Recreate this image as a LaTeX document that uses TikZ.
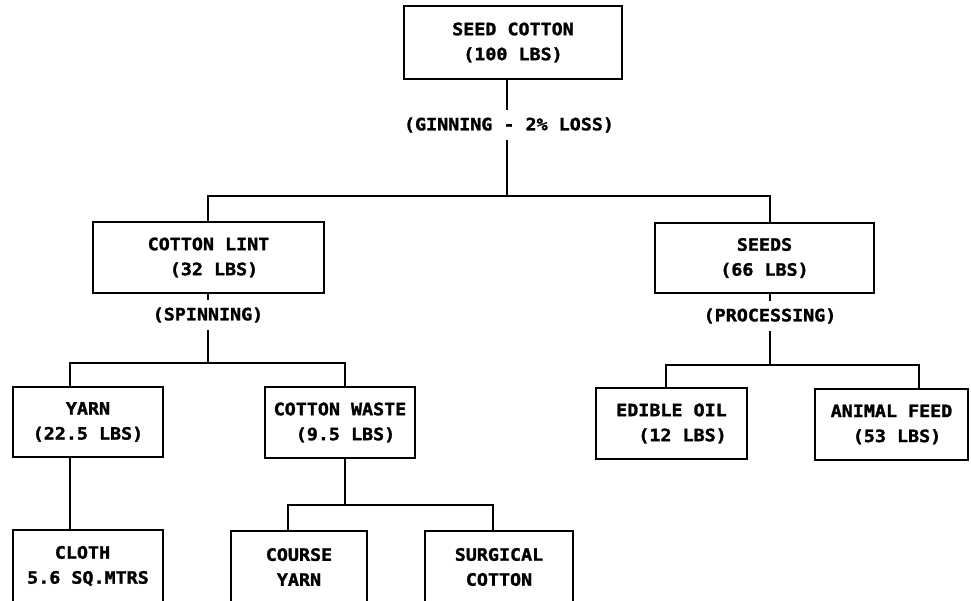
\documentclass[tikz,border=0pt]{standalone}
\usepackage{fontspec}
\newfontfamily\plotfont[FakeStretch=1.08, BoldFeatures={FakeBold=1.6}]{DejaVu Sans Mono}
\begin{document}
\begin{tikzpicture}[x=1pt,y=-1pt,
  txt/.style={font=\plotfont\bfseries\fontsize{17}{25}\selectfont},
  box/.style={txt, draw, line width=2.6pt, align=center, inner sep=0pt},
  lbl/.style={txt, fill=white, inner xsep=2pt, inner ysep=7pt},
  link/.style={line width=2.6pt}]
\useasboundingbox (0,0) rectangle (971,601);

% boxes
\node[box, minimum width=218pt, minimum height=73pt] (seed)  at (513,42.5)  {SEED COTTON\\(100 LBS)};
\node[box, minimum width=231pt, minimum height=71pt] (lint)  at (208.5,257.5) {COTTON LINT\\\ (32 LBS)};
\node[box, minimum width=219pt, minimum height=70pt] (seeds) at (764.5,258) {SEEDS\\(66 LBS)};
\node[box, minimum width=150pt, minimum height=70pt] (yarn)  at (88,422)    {YARN\\(22.5 LBS)};
\node[box, minimum width=150pt, minimum height=71pt] (waste) at (340,422.5) {COTTON WASTE\\\ (9.5 LBS)};
\node[box, minimum width=151pt, minimum height=71pt] (oil)   at (671.5,423.5) {EDIBLE OIL\\\ \ (12 LBS)};
\node[box, minimum width=153pt, minimum height=71pt] (feed)  at (891.5,424.5) {ANIMAL FEED\\\ (53 LBS)};
\node[box, minimum width=150pt, minimum height=72pt] (cloth) at (88,566)    {\ \ CLOTH\ \ \ \ \\5.6 SQ.MTRS};
\node[box, minimum width=136pt, minimum height=72pt] (course) at (299,567)  {COURSE\\YARN};
\node[box, minimum width=148pt, minimum height=72pt] (surg)  at (499,567)   {SURGICAL\\COTTON};

% junction points of the tree
\coordinate (g1) at (507,196);
\coordinate (g1L) at (208,196);
\coordinate (g1R) at (770,196);
\coordinate (s1) at (208,363);
\coordinate (s1L) at (70,363);
\coordinate (s1R) at (345,363);
\coordinate (p1) at (770,365);
\coordinate (p1L) at (666,365);
\coordinate (p1R) at (919,365);
\coordinate (w1) at (345,505);
\coordinate (w1L) at (288,505);
\coordinate (w1R) at (493,505);

% ginning
\draw[link] (seed.south -| g1) -- (g1);
\draw[link] (lint.north -| g1L) -- (g1L) -- (g1R) -- (seeds.north -| g1R);
\node[lbl] (ginning) at (509,125) {(GINNING - 2\% LOSS)};

% spinning
\draw[link] (lint.south -| s1) -- (s1);
\draw[link] (yarn.north -| s1L) -- (s1L) -- (s1R) -- (waste.north -| s1R);
\node[lbl] (spinning) at (208,315) {(SPINNING)};

% processing
\draw[link] (seeds.south -| p1) -- (p1);
\draw[link] (oil.north -| p1L) -- (p1L) -- (p1R) -- (feed.north -| p1R);
\node[lbl] (processing) at (770,316) {(PROCESSING)};

% yarn to cloth
\draw[link] (yarn.south -| s1L) -- (cloth.north -| s1L);

% cotton waste
\draw[link] (waste.south -| w1) -- (w1);
\draw[link] (course.north -| w1L) -- (w1L) -- (w1R) -- (surg.north -| w1R);
\end{tikzpicture}
\end{document}
